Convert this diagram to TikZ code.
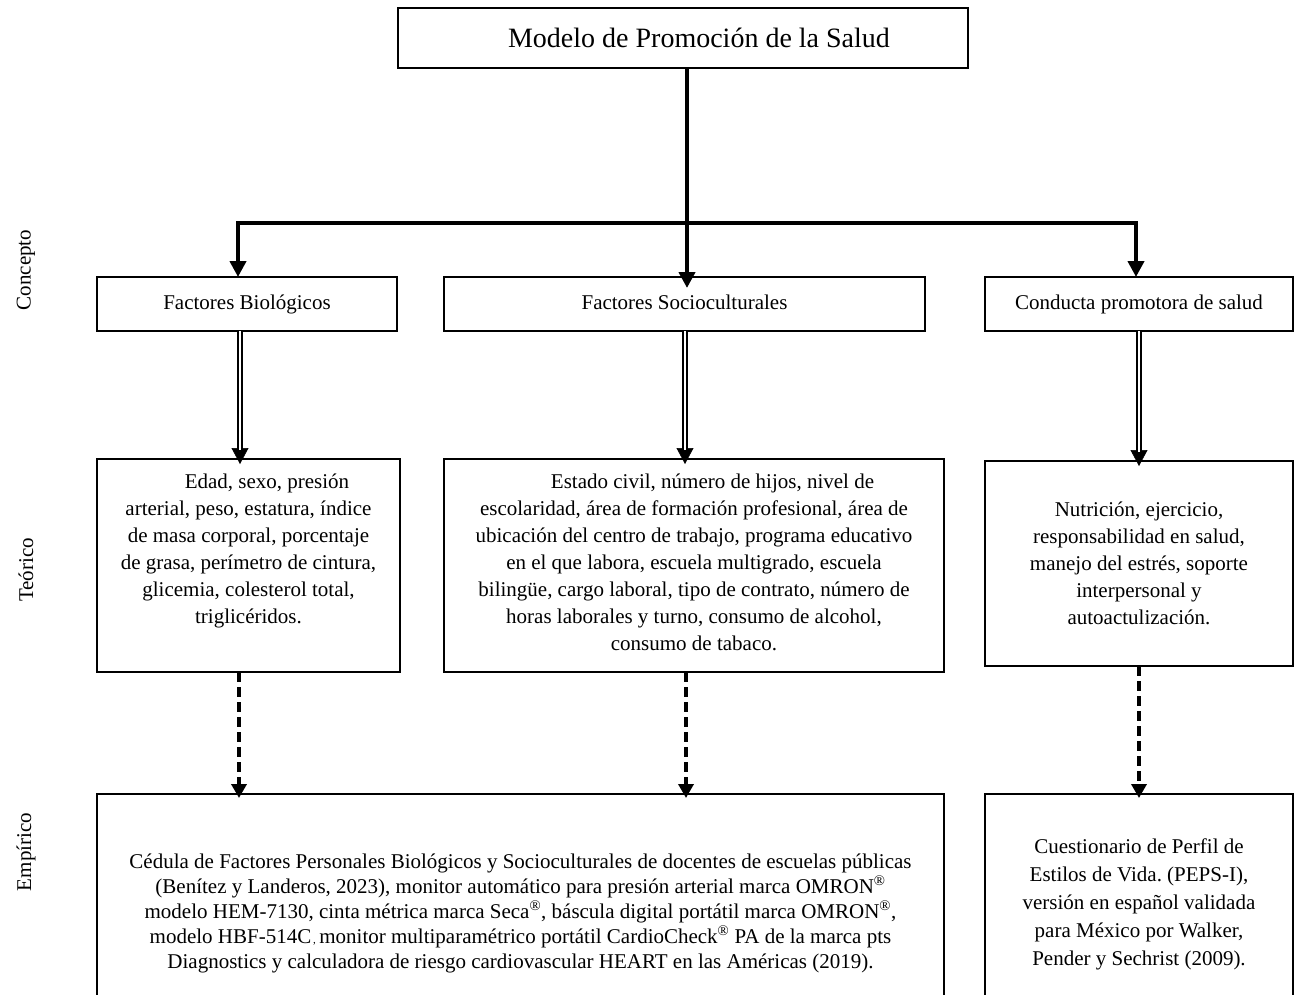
\documentclass[tikz,border=0pt]{standalone}
\usepackage{fontspec}
\setmainfont{Liberation Serif}
\frenchspacing
\usetikzlibrary{arrows.meta}
\begin{document}
\begin{tikzpicture}[x=1pt,y=-1pt,
  every node/.style={inner sep=0pt, outer sep=0pt},
  box/.style={draw, line width=2.2pt, anchor=north west, align=center,
    font=\fontsize{21}{27}\selectfont},
  onerow/.style={text height=14pt, text depth=4pt},
  txt/.style={align=center, font=\fontsize{21}{27}\selectfont},
  lbl/.style={rotate=90, font=\fontsize{21}{25}\selectfont},
  trunk/.style={line width=4pt, -{Triangle[length=16pt,width=16pt]}},
  dbltip/.style={line width=0.5pt, -{Triangle[length=16pt,width=17pt]}},
  dbl/.style={double, double distance=2.4pt, line width=1.4pt, shorten >=14pt},
  dashedarrow/.style={line width=4pt, dash pattern=on 10pt off 5pt,
    -{Triangle[length=14pt,width=15pt]}},
]
\clip (0,0) rectangle (1294,994);

% title
\node[box, line width=2.7pt, minimum width=570pt, minimum height=60pt,
  font=\fontsize{28}{34}\selectfont] (top) at (398,8)
  {\hspace*{32pt}Modelo de Promoción de la Salud};

% concept level
\node[box, onerow, minimum width=300pt, minimum height=54pt] (bio1) at (97,277) {Factores Biológicos};
\node[box, onerow, minimum width=481pt, minimum height=54pt] (soc1) at (444,277) {Factores Socioculturales};
\node[box, onerow, minimum width=308pt, minimum height=54pt] (con1) at (985,277) {Conducta promotora de salud};

% theoretical level
\node[box, minimum width=303pt, minimum height=213pt] (bio2) at (97,459) {};
\node[txt, anchor=north] (bio2t) at (248.5,474)
  {\hspace*{37pt}Edad, sexo, presión\\
   arterial, peso, estatura, índice\\
   de masa corporal, porcentaje\\
   de grasa, perímetro de cintura,\\
   glicemia, colesterol total,\\
   triglicéridos.};
\node[box, minimum width=500pt, minimum height=213pt] (soc2) at (444,459) {};
\node[txt, anchor=north] (soc2t) at (694,474)
  {\hspace*{37pt}Estado civil, número de hijos, nivel de\\
   escolaridad, área de formación profesional, área de\\
   ubicación del centro de trabajo, programa educativo\\
   en el que labora, escuela multigrado, escuela\\
   bilingüe, cargo laboral, tipo de contrato, número de\\
   horas laborales y turno, consumo de alcohol,\\
   consumo de tabaco.};
\node[box, minimum width=308pt, minimum height=205pt] (con2) at (985,461)
  {Nutrición, ejercicio,\\
   responsabilidad en salud,\\
   manejo del estrés, soporte\\
   interpersonal y\\
   autoactulización.};

% empirical level
\node[box, minimum width=847pt, minimum height=260pt] (emp1) at (97,794) {};
\node[txt, anchor=north, font=\fontsize{21}{25}\selectfont] (emp1t) at (520.5,853.5)
  {Cédula de Factores Personales Biológicos y Socioculturales de docentes de escuelas públicas\\
   (Benítez y Landeros, 2023), monitor automático para presión arterial marca OMRON\textsuperscript{®}\\
   modelo HEM-7130, cinta métrica marca Seca\textsuperscript{®}, báscula digital portátil marca OMRON\textsuperscript{®},\\
   modelo HBF-514C{\fontsize{11}{11}\selectfont\,,}\,monitor multiparamétrico portátil CardioCheck\textsuperscript{®} PA de la marca pts\\
   Diagnostics y calculadora de riesgo cardiovascular HEART en las Américas (2019).};
\node[box, minimum width=308pt, minimum height=260pt] (emp2) at (985,794) {};
\node[txt, anchor=north, font=\fontsize{21}{28}\selectfont] (emp2t) at (1139,839)
  {Cuestionario de Perfil de\\
   Estilos de Vida. (PEPS-I),\\
   versión en español validada\\
   para México por Walker,\\
   Pender y Sechrist (2009).};

% level labels
\node[lbl] (lc) at (26,270) {Concepto};
\node[lbl] (lt) at (26,570) {Teórico};
\node[lbl] (le) at (26,852) {Empírico};

% title to concepts
\coordinate (fork) at (687,223);
\draw[trunk] ([xshift=4pt]top.south) -- ([xshift=2.5pt,yshift=-11pt]soc1.north);
\draw[trunk] (fork) -| ([xshift=-9pt]bio1.north);
\draw[trunk] (fork) -| ([xshift=-3pt]con1.north);

% concepts to theory (double arrows)
\draw[dbltip] ([xshift=-7pt]bio1.south) -- ([xshift=-8.5pt,yshift=-5pt]bio2.north);
\draw[dbl]    ([xshift=-7pt]bio1.south) -- ([xshift=-8.5pt,yshift=-5pt]bio2.north);
\draw[dbltip] ([xshift=0.5pt]soc1.south) -- ([xshift=-9pt,yshift=-5pt]soc2.north);
\draw[dbl]    ([xshift=0.5pt]soc1.south) -- ([xshift=-9pt,yshift=-5pt]soc2.north);
\draw[dbltip] (con1.south) -- ([yshift=-5pt]con2.north);
\draw[dbl]    (con1.south) -- ([yshift=-5pt]con2.north);

% theory to empirical (dashed arrows)
\draw[dashedarrow] ([xshift=-9.5pt]bio2.south) -- ([xshift=-281.5pt,yshift=-4pt]emp1.north);
\draw[dashedarrow] ([xshift=-8pt]soc2.south) -- ([xshift=165.5pt,yshift=-4pt]emp1.north);
\draw[dashedarrow] (con2.south) -- ([yshift=-4pt]emp2.north);
\end{tikzpicture}
\end{document}
